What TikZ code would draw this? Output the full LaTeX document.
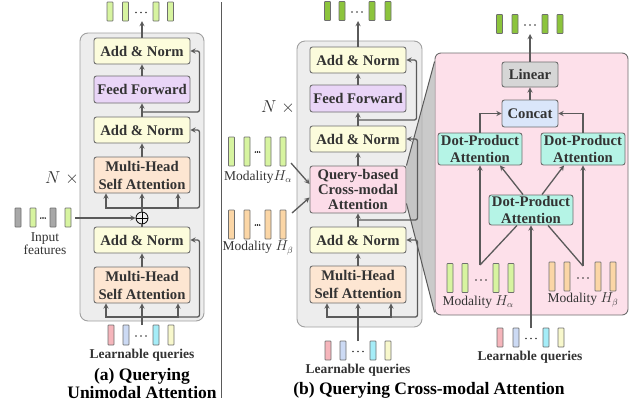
\documentclass[tikz,border=0pt]{standalone}
\usepackage{fontspec}
\setmainfont{Liberation Serif}
\definecolor{panelbg}{HTML}{EDEDED}
\definecolor{panelln}{HTML}{A0A0A0}
\definecolor{boxln}{HTML}{6E6E6E}
\definecolor{arrc}{HTML}{5A5A5A}
\definecolor{txt}{HTML}{333333}
\definecolor{normc}{HTML}{FCFCDC}
\definecolor{ffc}{HTML}{E9D5F7}
\definecolor{mhc}{HTML}{FDE6D2}
\definecolor{crossc}{HTML}{FCDCE8}
\definecolor{pinkbg}{HTML}{FDE0EA}
\definecolor{dpac}{HTML}{B5F4E6}
\definecolor{catc}{HTML}{DAE6FA}
\definecolor{linc}{HTML}{D6D6D6}
\definecolor{projc}{HTML}{B8B8B8}
\definecolor{tgreen}{HTML}{D7F4A0}
\definecolor{tdgreen}{HTML}{8CC43C}
\definecolor{tgray}{HTML}{A8A8A8}
\definecolor{torange}{HTML}{FBD6A6}
\definecolor{qpink}{HTML}{F5B5BB}
\definecolor{qblue}{HTML}{CCDAF4}
\definecolor{qcyan}{HTML}{A5EDF8}
\definecolor{qyel}{HTML}{F8F8CC}
\begin{document}
\begin{tikzpicture}[x=1pt,y=-1pt,>=stealth,
  box/.style={draw=boxln,line width=0.9pt,rounded corners=2.5pt,minimum width=96pt,inner sep=0pt,align=center,text=txt,font=\bfseries\fontsize{14.7}{17}\selectfont},
  panel/.style={draw=panelln,fill=panelbg,line width=0.9pt,rounded corners=8pt,inner sep=0pt},
  tok/.style={draw=boxln,line width=0.6pt,rounded corners=0.6pt,minimum width=6pt,minimum height=19pt,inner sep=0pt,fill=#1},
  tall/.style={minimum height=29pt},
  arr/.style={->,draw=arrc,line width=1.3pt},
  ln/.style={draw=arrc,line width=1.3pt},
  lbl/.style={text=txt,align=center,font=\fontsize{13.5}{13}\selectfont},
  qlbl/.style={text=txt,font=\bfseries\fontsize{13.5}{14}\selectfont},
  nrep/.style={text=txt,font=\fontsize{17}{17}\selectfont},
  captxt/.style={align=center,font=\bfseries\fontsize{17.5}{18}\selectfont}]
\useasboundingbox (0,0) rectangle (629,408);

% ---------- (a) unimodal ----------
\node[panel,minimum width=124pt,minimum height=288pt] (panA) at (142,177) {};
\node[box,fill=normc,minimum height=26pt] (anA1) at (142,51) {Add \& Norm};
\node[box,fill=ffc,minimum height=27pt] (ffA) at (142,89.5) {Feed Forward};
\node[box,fill=normc,minimum height=26pt] (anA2) at (142,130) {Add \& Norm};
\node[box,fill=mhc,minimum height=36pt,font=\bfseries\fontsize{14.7}{18}\selectfont] (mhA1) at (142,175) {Multi-Head\\Self Attention};
\node[circle,draw=black,line width=0.8pt,minimum size=12pt,inner sep=0pt] (plusA) at (142,218) {};
\draw[line width=0.8pt] (plusA.north) -- (plusA.south) (plusA.west) -- (plusA.east);
\node[box,fill=normc,minimum height=26pt] (anA3) at (142,240) {Add \& Norm};
\node[box,fill=mhc,minimum height=36pt,font=\bfseries\fontsize{14.7}{18}\selectfont] (mhA2) at (142,285) {Multi-Head\\Self Attention};
\node[nrep] (nA) at (62,178) {$N\;\times$};

% tokens
\foreach \x [count=\i] in {110,125.5,156,170.5}
  \node[tok=tgreen] (oA\i) at (\x,11.5) {};
\foreach \d in {-5,0,5} \fill[txt] (141+\d,12.5) circle (0.9);
\foreach \x/\c [count=\i] in {18/tgray,33/tgreen,53/tgray,68/tgreen}
  \node[tok=\c] (iA\i) at (\x,217.5) {};
\foreach \d in {-2.2,0,2.2} \fill[black] (43+\d,218) circle (0.8);
\node[lbl] (iAl) at (45,243.5) {Input\\features};
\foreach \x/\c [count=\i] in {111/qpink,126/qblue,156/qcyan,171/qyel}
  \node[tok=\c,minimum height=20pt] (qA\i) at (\x,335) {};
\foreach \d in {-5,0,5} \fill[txt] (141+\d,336) circle (0.9);
\node[qlbl] (qAl) at (142,355) {Learnable queries};
\node[captxt] (capA) at (142,384) {(a) Querying\\Unimodal Attention};

\coordinate (outA) at (142,21);
\coordinate (inA) at (75,218);
\coordinate (qAtop) at (142,325);
\coordinate (jA1) at (142,112);
\coordinate (jA2) at (142,208);
\coordinate (jA3) at (142,317);

\draw[arr] (anA1.north) -- (outA);
\draw[arr] (ffA.north) -- (anA1.south);
\draw[arr] (anA2.north) -- (ffA.south);
\draw[arr] (mhA1.north) -- (anA2.south);
\draw[arr,rounded corners=2pt] (jA1) -| ([xshift=9pt]anA1.east) -- (anA1.east);
\draw[arr] (jA2) -| ([xshift=-36pt]mhA1.south);
\draw[arr] (jA2) -| ([xshift=36pt]mhA1.south);
\draw[arr] (jA2) -- (mhA1.south);
\draw[arr,rounded corners=2pt] (jA2) -| ([xshift=9pt]anA2.east) -- (anA2.east);
\draw[ln] (plusA.north) -- (jA2);
\draw[arr] (inA) -- (plusA.west);
\draw[ln] (anA3.north) -- (plusA.south);
\draw[arr] (mhA2.north) -- (anA3.south);
\draw[arr] (jA3) -| ([xshift=-36pt]mhA2.south);
\draw[arr] (jA3) -| ([xshift=36pt]mhA2.south);
\draw[arr,rounded corners=2pt] (jA3) -| ([xshift=9pt]anA3.east) -- (anA3.east);
\draw[arr] (qAtop) -- (mhA2.south);

% separator
\draw[draw=arrc,line width=1pt] (221,2) -- (221,398);

% ---------- (b) cross-modal ----------
\node[panel,minimum width=125pt,minimum height=286pt] (panB) at (359.5,184) {};
\node[box,fill=crossc,minimum height=47pt,font=\bfseries\fontsize{14.7}{15}\selectfont] (cross) at (358,189.5) {Query-based\\Cross-modal\\Attention};
\node[draw=boxln,fill=pinkbg,line width=0.9pt,rounded corners=6pt,minimum width=193pt,minimum height=262pt,inner sep=0pt] (pinkP) at (531.5,184) {};
% zoom-in wedge
\fill[projc,opacity=0.75] (cross.north east) -- ([yshift=-9pt]pinkP.north west) -- ([yshift=3pt]pinkP.south west) -- ([yshift=-14pt]cross.east) -- cycle;
\draw[ln,line width=1pt] (cross.north east) -- ([yshift=-9pt]pinkP.north west);
\draw[ln,line width=1pt] ([yshift=-14pt]cross.east) -- ([yshift=3pt]pinkP.south west);

\node[box,fill=normc,minimum height=26pt] (anB1) at (358,60) {Add \& Norm};
\node[box,fill=ffc,minimum height=27pt] (ffB) at (358,98.5) {Feed Forward};
\node[box,fill=normc,minimum height=26pt] (anB2) at (358,139) {Add \& Norm};
\node[box,fill=normc,minimum height=26pt] (anB3) at (358,240) {Add \& Norm};
\node[box,fill=mhc,minimum height=37pt,font=\bfseries\fontsize{14.7}{18}\selectfont] (mhB) at (358,284.5) {Multi-Head\\Self Attention};
\node[nrep] (nB) at (278,107) {$N\;\times$};

\foreach \x [count=\i] in {327.5,342,372,388}
  \node[tok=tdgreen] (oB\i) at (\x,11) {};
\foreach \d in {-5,0,5} \fill[txt] (357+\d,12) circle (0.9);
\foreach \x [count=\i] in {231.5,247,268,283}
  \node[tok=tgreen,tall] (maB\i) at (\x,151.5) {};
\foreach \d in {-2.2,0,2.2} \fill[black] (257.5+\d,152) circle (0.8);
\node[lbl] (maBl) at (258,177) {Modality$H_\alpha$};
\foreach \x [count=\i] in {231.5,247,268,283}
  \node[tok=torange,tall] (mbB\i) at (\x,224.5) {};
\foreach \d in {-2.2,0,2.2} \fill[black] (257.5+\d,225) circle (0.8);
\node[lbl] (mbBl) at (258,248) {Modality $H_\beta$};
\foreach \x/\c [count=\i] in {328/qpink,343/qblue,373/qcyan,388/qyel}
  \node[tok=\c] (qB\i) at (\x,350.5) {};
\foreach \d in {-5,0,5} \fill[txt] (358+\d,351.5) circle (0.9);
\node[qlbl] (qBl) at (358,370) {Learnable queries};
\node[captxt] (capB) at (429,390) {(b) Querying Cross-modal Attention};

\coordinate (outB) at (358,21);
\coordinate (maB) at (291,163);
\coordinate (mbB) at (292,213);
\coordinate (qBtop) at (358,341);
\coordinate (jB1) at (358,120);
\coordinate (jB2) at (358,220);
\coordinate (jB3) at (358,317);

\draw[arr] (anB1.north) -- (outB);
\draw[arr] (ffB.north) -- (anB1.south);
\draw[arr] (anB2.north) -- (ffB.south);
\draw[arr] (cross.north) -- (anB2.south);
\draw[arr] (anB3.north) -- (cross.south);
\draw[arr] (mhB.north) -- (anB3.south);
\draw[arr,rounded corners=2pt] (jB1) -| ([xshift=10pt]anB1.east) -- (anB1.east);
\draw[arr,rounded corners=2pt] (jB2) -| ([xshift=11pt]anB2.east) -- (anB2.east);
\draw[arr] (jB3) -| ([xshift=-31pt]mhB.south);
\draw[arr] (jB3) -| ([xshift=33pt]mhB.south);
\draw[arr,rounded corners=2pt] (jB3) -| ([xshift=11pt]anB3.east) -- (anB3.east);
\draw[arr] (qBtop) -- (mhB.south);
\draw[arr] (maB) -- ([yshift=5.5pt]cross.west);
\draw[arr] (mbB) -- ([yshift=-8pt]cross.west);

% ---------- attention detail ----------
\node[box,fill=linc,minimum width=56pt,minimum height=25pt] (linear) at (530,74.5) {Linear};
\node[box,fill=catc,minimum width=56pt,minimum height=27pt] (concat) at (530,113.5) {Concat};
\node[box,fill=dpac,minimum width=84pt,minimum height=32pt,font=\bfseries\fontsize{14.7}{16.5}\selectfont] (dpaL) at (480,149) {Dot-Product\\Attention};
\node[box,fill=dpac,minimum width=84pt,minimum height=32pt,font=\bfseries\fontsize{14.7}{16.5}\selectfont] (dpaR) at (583,149) {Dot-Product\\Attention};
\node[box,fill=dpac,minimum width=84pt,minimum height=30pt,font=\bfseries\fontsize{14.7}{16.5}\selectfont] (dpaB) at (531,210) {Dot-Product\\Attention};

\foreach \x [count=\i] in {499.5,515,545,560}
  \node[tok=tdgreen] (oC\i) at (\x,24) {};
\foreach \d in {-5,0,5} \fill[txt] (530+\d,25) circle (0.9);
\foreach \x [count=\i] in {450,465,496,511}
  \node[tok=tgreen,tall] (maC\i) at (\x,278) {};
\foreach \d in {-5,0,5} \fill[txt] (481+\d,280) circle (0.9);
\node[lbl] (maCl) at (478,302) {Modality $H_\alpha$};
\foreach \x [count=\i] in {552,567,598,613}
  \node[tok=torange,tall] (mbC\i) at (\x,276.5) {};
\foreach \d in {-5,0,5} \fill[txt] (583+\d,278) circle (0.9);
\node[lbl] (mbCl) at (583,300) {Modality $H_\beta$};
\foreach \x/\c [count=\i] in {500/qpink,516/qblue,546/qcyan,561/qyel}
  \node[tok=\c] (qC\i) at (\x,337.5) {};
\foreach \d in {-5,0,5} \fill[txt] (531+\d,338.5) circle (0.9);
\node[qlbl] (qCl) at (530,357) {Learnable queries};

\coordinate (outC) at (530,34);
\coordinate (maC) at (480,265);
\coordinate (mbC) at (583,266);
\coordinate (qCtop) at (531,328);

\draw[arr] (linear.north) -- (outC);
\draw[arr] (concat.north) -- (linear.south);
\draw[arr] (dpaL.north) |- (concat.west);
\draw[arr] (dpaR.north) |- (concat.east);
\draw[arr] ([xshift=-8pt]dpaB.north) -- ([xshift=20pt]dpaL.south);
\draw[arr] ([xshift=11pt]dpaB.north) -- ([xshift=-19pt]dpaR.south);
\draw[arr] (maC) -- (dpaL.south);
\draw[arr] (mbC) -- (dpaR.south);
\draw[ln] (maC) -- ([xshift=-14pt]dpaB.south);
\draw[ln] (mbC) -- ([xshift=17pt]dpaB.south);
\draw[arr] (qCtop) -- (dpaB.south);
\end{tikzpicture}
\end{document}
